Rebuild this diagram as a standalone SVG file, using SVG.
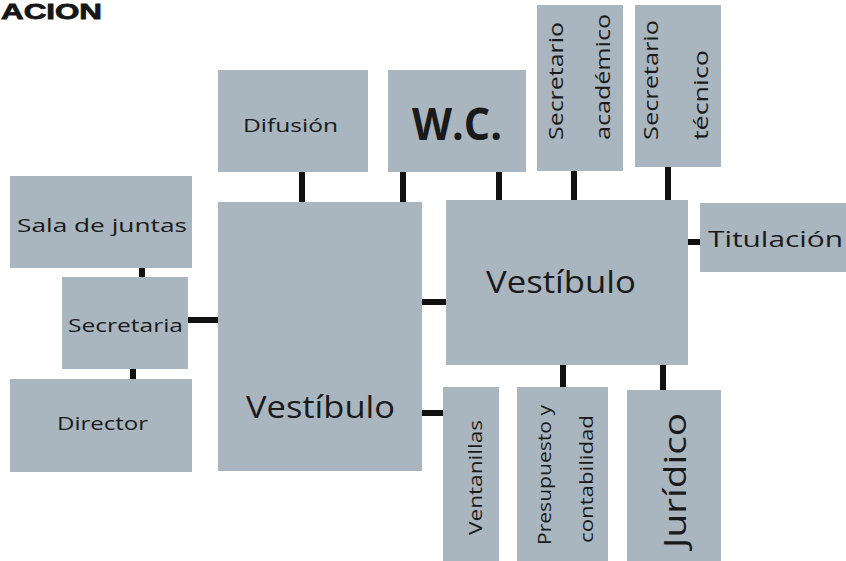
<svg xmlns="http://www.w3.org/2000/svg" width="846" height="561" viewBox="0 0 846 561">
  <style>
    .room { fill: #a9b5bf; }
    .lbl { font-family: "Open Sans", "Noto Sans", "DejaVu Sans", sans-serif; fill: #1a1a1a; }
    .link { fill: #111111; }
    .title { font-family: "Liberation Sans", "DejaVu Sans", sans-serif; font-weight: 900; fill: #161616; }
  </style>
  <rect width="846" height="561" fill="#ffffff"/>

  <text class="title" x="1" y="19" font-size="22" stroke="#161616" stroke-width="0.8" textLength="101" lengthAdjust="spacingAndGlyphs">ACION</text>

  <!-- connectors -->
  <g id="connectors">
    <rect class="link" x="139" y="268" width="6" height="9"/>
    <rect class="link" x="130" y="369" width="6" height="10"/>
    <rect class="link" x="188" y="317" width="30" height="6"/>
    <rect class="link" x="299" y="172" width="6" height="30"/>
    <rect class="link" x="400" y="172" width="6" height="30"/>
    <rect class="link" x="496" y="172" width="6" height="28"/>
    <rect class="link" x="571" y="171" width="6" height="29"/>
    <rect class="link" x="665" y="167" width="6" height="33"/>
    <rect class="link" x="688" y="239" width="12" height="6"/>
    <rect class="link" x="422" y="299" width="24" height="6"/>
    <rect class="link" x="422" y="410" width="21" height="6"/>
    <rect class="link" x="560" y="365" width="6" height="22"/>
    <rect class="link" x="660" y="365" width="6" height="25"/>
  </g>

  <g id="sala-juntas">
    <rect class="room" x="10" y="176" width="182" height="92"/>
    <text class="lbl" x="17" y="232" font-size="19" textLength="170" lengthAdjust="spacingAndGlyphs">Sala de juntas</text>
  </g>
  <g id="secretaria">
    <rect class="room" x="62" y="277" width="126" height="92"/>
    <text class="lbl" x="68" y="332" font-size="19" textLength="115" lengthAdjust="spacingAndGlyphs">Secretaria</text>
  </g>
  <g id="director">
    <rect class="room" x="10" y="379" width="182" height="93"/>
    <text class="lbl" x="57" y="430" font-size="19" textLength="91" lengthAdjust="spacingAndGlyphs">Director</text>
  </g>
  <g id="vestibulo-1">
    <rect class="room" x="218" y="202" width="204" height="269"/>
    <text class="lbl" x="246" y="418" font-size="31" textLength="149" lengthAdjust="spacingAndGlyphs">Vestíbulo</text>
  </g>
  <g id="difusion">
    <rect class="room" x="218" y="70" width="150" height="102"/>
    <text class="lbl" x="243" y="132" font-size="18" textLength="95" lengthAdjust="spacingAndGlyphs">Difusión</text>
  </g>
  <g id="wc">
    <rect class="room" x="388" y="70" width="138" height="102"/>
    <text class="lbl" x="412" y="140" font-size="44" font-weight="bold" textLength="90" lengthAdjust="spacingAndGlyphs">W.C.</text>
  </g>
  <g id="secretario-academico">
    <rect class="room" x="537" y="5" width="86" height="166"/>
    <text class="lbl" transform="translate(563,140) rotate(-90)" font-size="20" textLength="118" lengthAdjust="spacingAndGlyphs">Secretario</text>
    <text class="lbl" transform="translate(610,140) rotate(-90)" font-size="20" textLength="126" lengthAdjust="spacingAndGlyphs">académico</text>
  </g>
  <g id="secretario-tecnico">
    <rect class="room" x="635" y="5" width="86" height="162"/>
    <text class="lbl" transform="translate(658,140) rotate(-90)" font-size="20" textLength="120" lengthAdjust="spacingAndGlyphs">Secretario</text>
    <text class="lbl" transform="translate(708,140) rotate(-90)" font-size="20" textLength="90" lengthAdjust="spacingAndGlyphs">técnico</text>
  </g>
  <g id="vestibulo-2">
    <rect class="room" x="446" y="200" width="242" height="165"/>
    <text class="lbl" x="486" y="293" font-size="31" textLength="150" lengthAdjust="spacingAndGlyphs">Vestíbulo</text>
  </g>
  <g id="titulacion">
    <rect class="room" x="700" y="203" width="146" height="69"/>
    <text class="lbl" x="708" y="247" font-size="22" textLength="135" lengthAdjust="spacingAndGlyphs">Titulación</text>
  </g>
  <g id="ventanillas">
    <rect class="room" x="443" y="387" width="56" height="174"/>
    <text class="lbl" transform="translate(482,535) rotate(-90)" font-size="18" textLength="115" lengthAdjust="spacingAndGlyphs">Ventanillas</text>
  </g>
  <g id="presupuesto">
    <rect class="room" x="517" y="387" width="91" height="174"/>
    <text class="lbl" transform="translate(551,545) rotate(-90)" font-size="18" textLength="140" lengthAdjust="spacingAndGlyphs">Presupuesto y</text>
    <text class="lbl" transform="translate(593,543) rotate(-90)" font-size="18" textLength="128" lengthAdjust="spacingAndGlyphs">contabilidad</text>
  </g>
  <g id="juridico">
    <rect class="room" x="627" y="390" width="94" height="171"/>
    <text class="lbl" transform="translate(686,548) rotate(-90)" font-size="31" textLength="135" lengthAdjust="spacingAndGlyphs">Jurídico</text>
  </g>
</svg>
